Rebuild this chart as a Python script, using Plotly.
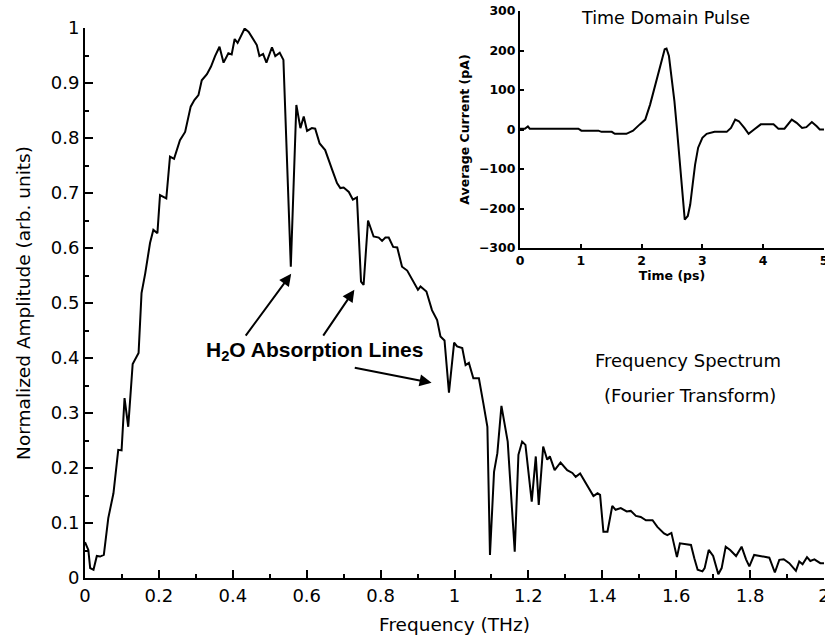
import plotly.graph_objects as go

# Main spectrum
freq_thz = [0.000, 0.009, 0.014, 0.023, 0.032, 0.041, 0.051, 0.063, 0.077, 0.088, 0.090, 0.099,
            0.107, 0.117, 0.129, 0.145, 0.153, 0.163, 0.176, 0.185, 0.196, 0.203, 0.220, 0.230,
            0.241, 0.257, 0.271, 0.286, 0.296, 0.307, 0.316, 0.330, 0.341, 0.352, 0.364, 0.375,
            0.388, 0.397, 0.405, 0.413, 0.432, 0.443, 0.465, 0.472, 0.482, 0.491, 0.506, 0.515,
            0.527, 0.537, 0.557, 0.572, 0.583, 0.592, 0.601, 0.614, 0.623, 0.635, 0.650, 0.669,
            0.682, 0.691, 0.700, 0.714, 0.725, 0.736, 0.747, 0.754, 0.766, 0.781, 0.795, 0.804,
            0.813, 0.822, 0.834, 0.845, 0.858, 0.872, 0.890, 0.901, 0.908, 0.924, 0.939, 0.953,
            0.962, 0.973, 0.985, 0.999, 1.007, 1.021, 1.030, 1.039, 1.051, 1.066, 1.078, 1.089,
            1.096, 1.107, 1.116, 1.127, 1.144, 1.163, 1.173, 1.183, 1.192, 1.209, 1.220, 1.228,
            1.240, 1.251, 1.258, 1.271, 1.287, 1.305, 1.319, 1.328, 1.340, 1.355, 1.369, 1.376,
            1.387, 1.394, 1.403, 1.414, 1.427, 1.436, 1.450, 1.466, 1.477, 1.491, 1.504, 1.518,
            1.536, 1.549, 1.567, 1.576, 1.587, 1.602, 1.610, 1.626, 1.640, 1.649, 1.658, 1.671,
            1.677, 1.688, 1.700, 1.714, 1.723, 1.734, 1.746, 1.762, 1.777, 1.789, 1.798, 1.811,
            1.825, 1.838, 1.852, 1.867, 1.879, 1.891, 1.906, 1.924, 1.933, 1.942, 1.954, 1.963,
            1.974, 1.990, 2.000]
amplitude = [0.065, 0.051, 0.018, 0.015, 0.040, 0.039, 0.042, 0.109, 0.154, 0.218, 0.233, 0.232,
             0.327, 0.275, 0.389, 0.409, 0.518, 0.554, 0.609, 0.633, 0.627, 0.696, 0.690, 0.766,
             0.762, 0.796, 0.811, 0.857, 0.869, 0.878, 0.905, 0.916, 0.930, 0.949, 0.966, 0.937,
             0.954, 0.952, 0.980, 0.973, 0.999, 0.993, 0.969, 0.949, 0.953, 0.937, 0.965, 0.949,
             0.955, 0.942, 0.566, 0.860, 0.818, 0.839, 0.813, 0.818, 0.817, 0.790, 0.778, 0.742,
             0.718, 0.709, 0.710, 0.702, 0.688, 0.692, 0.539, 0.533, 0.650, 0.621, 0.619, 0.613,
             0.619, 0.619, 0.602, 0.601, 0.566, 0.559, 0.536, 0.524, 0.530, 0.521, 0.487, 0.469,
             0.439, 0.432, 0.337, 0.428, 0.421, 0.418, 0.387, 0.391, 0.363, 0.363, 0.318, 0.275,
             0.042, 0.193, 0.227, 0.313, 0.248, 0.048, 0.224, 0.248, 0.242, 0.139, 0.221, 0.133,
             0.239, 0.215, 0.221, 0.196, 0.210, 0.196, 0.191, 0.184, 0.190, 0.172, 0.157, 0.149,
             0.154, 0.151, 0.084, 0.084, 0.131, 0.124, 0.127, 0.121, 0.122, 0.113, 0.111, 0.105,
             0.105, 0.093, 0.081, 0.078, 0.082, 0.038, 0.063, 0.061, 0.060, 0.036, 0.015, 0.012,
             0.018, 0.051, 0.040, 0.007, 0.018, 0.057, 0.051, 0.040, 0.057, 0.034, 0.021, 0.042,
             0.040, 0.038, 0.037, 0.010, 0.033, 0.034, 0.027, 0.013, 0.030, 0.025, 0.038, 0.031,
             0.034, 0.027, 0.027]

# Inset time-domain pulse
time_ps = [0.00, 0.08, 0.13, 0.16, 0.96, 1.01, 1.29, 1.34, 1.51, 1.56, 1.75, 1.86, 1.97, 2.06,
           2.14, 2.21, 2.29, 2.34, 2.38, 2.41, 2.45, 2.49, 2.54, 2.58, 2.61, 2.66, 2.69, 2.71,
           2.76, 2.80, 2.84, 2.88, 2.93, 3.00, 3.07, 3.20, 3.40, 3.47, 3.54, 3.60, 3.69, 3.76,
           3.85, 3.96, 4.17, 4.25, 4.35, 4.47, 4.55, 4.64, 4.71, 4.80, 4.88, 4.93, 5.00]
current_pa = [2, 2, 8, 2, 2, -3, -3, -6, -6, -11, -11, -3, 13, 25,
              63, 105, 148, 181, 203, 205, 186, 135, 72, 4, -55, -131, -190, -228,
              -219, -190, -139, -89, -46, -21, -11, -6, -6, 4, 25, 21, 4, -11,
              0, 13, 13, 2, 2, 25, 17, 4, 6, 19, 8, 0, 0]

# Tick labels
freq_ticks = [0, 0.2, 0.4, 0.6, 0.8, 1, 1.2, 1.4, 1.6, 1.8, 2]
freq_tick_text = ["0", "0.2", "0.4", "0.6", "0.8", "1", "1.2", "1.4", "1.6", "1.8", "2"]
amp_ticks = [0, 0.1, 0.2, 0.3, 0.4, 0.5, 0.6, 0.7, 0.8, 0.9, 1]
amp_tick_text = ["0", "0.1", "0.2", "0.3", "0.4", "0.5", "0.6", "0.7", "0.8", "0.9", "1"]
time_ticks = [0, 1, 2, 3, 4, 5]
current_ticks = [-300, -200, -100, 0, 100, 200, 300]

# Annotations: (tail_x, tail_y, head_x, head_y)
arrows = [(0.432, 0.438, 0.558, 0.553),
          (0.642, 0.438, 0.729, 0.524),
          (0.726, 0.383, 0.938, 0.355)]

FONT = "DejaVu Sans"

fig = go.Figure()
fig.add_trace(go.Scatter(x=freq_thz, y=amplitude, mode="lines",
                         line=dict(color="black", width=2), showlegend=False))
fig.add_trace(go.Scatter(x=time_ps, y=current_pa, mode="lines", xaxis="x2", yaxis="y2",
                         line=dict(color="black", width=2), showlegend=False))

axis_common = dict(showline=True, linecolor="black", linewidth=2, showgrid=False,
                   zeroline=False, ticks="inside", tickcolor="black", tickwidth=2,
                   ticklabeloverflow="allow", automargin=False)

fig.update_layout(
    width=825, height=640,
    margin=dict(l=85, r=1, t=11, b=62, autoexpand=False),
    paper_bgcolor="white", plot_bgcolor="white",
    font=dict(family=FONT, color="black"),
    xaxis=dict(**axis_common, range=[0, 2], domain=[0, 1], tickmode="array",
               tickvals=freq_ticks, ticktext=freq_tick_text, ticklen=8,
               minor=dict(dtick=0.1, tick0=0, ticklen=4, ticks="inside", tickwidth=2, tickcolor="black"),
               tickfont=dict(size=18, family=FONT),
               title=dict(text="Frequency (THz)", font=dict(size=18.5, family=FONT), standoff=13)),
    yaxis=dict(**axis_common, range=[0, 1], domain=[0, 0.970], tickmode="array",
               tickvals=amp_ticks, ticktext=amp_tick_text, ticklen=8,
               minor=dict(dtick=0.05, tick0=0, ticklen=4, ticks="inside", tickwidth=2, tickcolor="black"),
               tickfont=dict(size=18, family=FONT),
               title=dict(text="Normalized Amplitude (arb. units)", font=dict(size=18.5, family=FONT), standoff=15)),
    xaxis2=dict(**axis_common, range=[0, 5], domain=[0.5886, 1], anchor="y2", tickmode="array",
                tickvals=time_ticks, ticklen=4,
                tickfont=dict(size=12.5, family=FONT, weight="bold"),
                title=dict(text="Time (ps)", font=dict(size=12.5, family=FONT, weight="bold"), standoff=2)),
    yaxis2=dict(**axis_common, range=[-300, 300], domain=[0.582, 1], anchor="x2", tickmode="array",
                tickvals=current_ticks, ticklen=4,
                tickfont=dict(size=12.5, family=FONT, weight="bold"),
                title=dict(text="Average Current (pA)", font=dict(size=12.5, family=FONT, weight="bold"), standoff=7)),
)

for tx, ty, hx, hy in arrows:
    fig.add_annotation(x=hx, y=hy, ax=tx, ay=ty, xref="x", yref="y", axref="x", ayref="y",
                       text="", showarrow=True, arrowhead=2, arrowsize=1.2, arrowwidth=2,
                       arrowcolor="black")

fig.add_annotation(x=0.621, y=0.413, xref="x", yref="y", showarrow=False,
                   text="<b>H<sub>2</sub>O Absorption Lines</b>",
                   font=dict(size=21, family="Liberation Sans", color="black"))
fig.add_annotation(x=1.633, y=0.395, xref="x", yref="y", showarrow=False,
                   text="Frequency Spectrum", font=dict(size=18, family=FONT))
fig.add_annotation(x=1.636, y=0.331, xref="x", yref="y", showarrow=False,
                   text="(Fourier Transform)", font=dict(size=18, family=FONT))
fig.add_annotation(x=2.39, y=282, xref="x2", yref="y2", showarrow=False,
                   text="Time Domain Pulse", font=dict(size=17.5, family=FONT))

fig.write_html("out.html")
